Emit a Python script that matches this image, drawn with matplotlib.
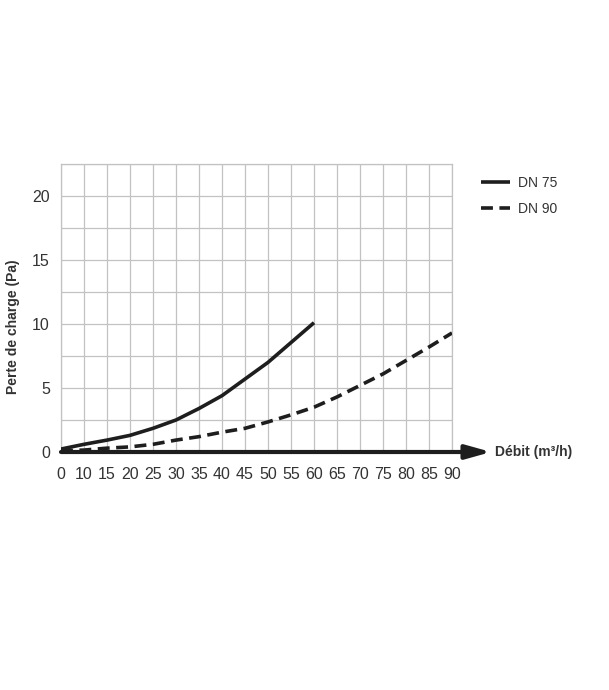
import matplotlib
matplotlib.use('Agg')
import matplotlib.pyplot as plt
import numpy as np

plt.rcParams['font.family'] = ['Liberation Sans', 'DejaVu Sans']

# Data
x_labels = ['0', '10', '15', '20', '25', '30', '35', '40', '45', '50',
            '55', '60', '65', '70', '75', '80', '85', '90']
dn75 = [0.23, 0.6, 0.93, 1.3, 1.85, 2.5, 3.4, 4.4, 5.7, 7.0, 8.55, 10.1]
dn90 = [0.1, 0.15, 0.3, 0.4, 0.6, 0.93, 1.2, 1.55, 1.85, 2.35, 2.9, 3.5,
        4.3, 5.2, 6.1, 7.15, 8.2, 9.3]
y_major = [0, 5, 10, 15, 20]
y_minor = [2.5, 7.5, 12.5, 17.5, 22.5]

W, H = 609, 690
fig = plt.figure(figsize=(W / 100, H / 100), dpi=100)
ax = fig.add_axes([61 / W, 1 - 452 / H, (452 - 61) / W, (452 - 164) / H])

pos = np.arange(len(x_labels))
grid_c = '#c2c2c2'
text_c = '#333333'
line_c = '#1e1e1e'

ax.plot(pos[:len(dn75)], dn75, color=line_c, lw=2.6, solid_capstyle='butt',
        solid_joinstyle='round', label='DN 75', zorder=3)
ax.plot(pos[:len(dn90)], dn90, color=line_c, lw=2.6, dashes=(3.3, 1.8),
        label='DN 90', zorder=3)

ax.set_xlim(0, len(x_labels) - 1)
ax.set_ylim(0, 22.5)
ax.set_xticks(pos)
ax.set_xticklabels(x_labels)
ax.set_yticks(y_major)
ax.set_yticks(y_minor, minor=True)
ax.grid(True, which='both', color=grid_c, lw=0.9)
ax.set_axisbelow(True)
ax.tick_params(which='both', length=0)
ax.tick_params(axis='y', pad=8, labelsize=11.5, labelcolor=text_c)
ax.tick_params(axis='x', pad=11, labelsize=11.5, labelcolor=text_c)
for s in ['top', 'right', 'left']:
    ax.spines[s].set_color(grid_c)
    ax.spines[s].set_linewidth(0.9)
ax.spines['bottom'].set_visible(False)

# x-axis arrow
ax.annotate('', xy=(1.100, 0), xycoords=('axes fraction', 'data'),
            xytext=(0, 0), textcoords=('axes fraction', 'data'),
            arrowprops=dict(arrowstyle='-|>,head_length=1.5,head_width=0.42',
                            lw=3, color=line_c, mutation_scale=10,
                            shrinkA=0, shrinkB=0),
            annotation_clip=False, zorder=4)

fig.text(495 / W, 1 - 452 / H, 'Débit (m³/h)', fontsize=10, fontweight='bold',
         color=text_c, va='center', ha='left')
fig.text(13 / W, 1 - 327 / H, 'Perte de charge (Pa)', fontsize=10,
         fontweight='bold', color=text_c, rotation=90, va='center', ha='center')

leg = ax.legend(loc='upper left', bbox_to_anchor=(481 / W, 1 - 176 / H),
                bbox_transform=fig.transFigure, frameon=False, borderpad=0,
                borderaxespad=0, handlelength=2.1, handletextpad=0.6,
                labelspacing=0.85, fontsize=10)
for t in leg.get_texts():
    t.set_color(text_c)

fig.savefig('out.png', dpi=100, facecolor='white')
